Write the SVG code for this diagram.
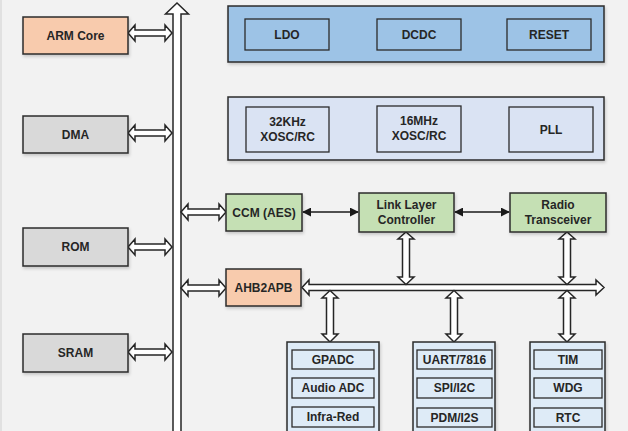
<svg xmlns="http://www.w3.org/2000/svg" width="628" height="431" viewBox="0 0 628 431">
<defs>
<filter id="sh" x="-10%" y="-10%" width="130%" height="140%"><feDropShadow dx="1" dy="2" stdDeviation="1.5" flood-color="#000" flood-opacity="0.18"/></filter>
<marker id="ah" viewBox="0 0 10 10" refX="9" refY="5" markerWidth="9" markerHeight="9" markerUnits="userSpaceOnUse" orient="auto-start-reverse"><path d="M0,0 L10,5 L0,10 Z" fill="#1a1a1a"/></marker>
<style>
.bx{stroke:#2b2b2b;stroke-width:1.5;filter:url(#sh)}
.in{stroke:#2b2b2b;stroke-width:1.3}
.peach{fill:#f8cbad}.gray{fill:#d9d9d9}.blue{fill:#9dc3e6}.lav{fill:#dae3f3}.green{fill:#c5e0b4}.lb{fill:#deebf7}
.t{font-family:"Liberation Sans",Arial,sans-serif;font-weight:bold;font-size:12px;fill:#262626;text-anchor:middle;dominant-baseline:central}
.da{fill:#ffffff;stroke:#262626;stroke-width:1.5;stroke-linejoin:miter}
.ln{stroke:#1a1a1a;stroke-width:1.3;fill:none}
</style>
</defs>
<rect width="628" height="431" fill="#f2f2f2"/>
<line x1="1" y1="0" x2="1" y2="431" stroke="#d0d0d0"/>

<g id="connectors">
<path class="da" d="M173,440 L173,14 L165.5,14 L177,3 L188.5,14 L181,14 L181,440 Z"/>
<path class="da" d="M128,33 L135,25 L135,30 L165,30 L165,25 L172,33 L165,41 L165,36 L135,36 L135,41 Z"/>
<path class="da" d="M128,133 L135,125 L135,130 L165,130 L165,125 L172,133 L165,141 L165,136 L135,136 L135,141 Z"/>
<path class="da" d="M128,247 L135,239 L135,244 L165,244 L165,239 L172,247 L165,255 L165,250 L135,250 L135,255 Z"/>
<path class="da" d="M128,352 L135,344 L135,349 L165,349 L165,344 L172,352 L165,360 L165,355 L135,355 L135,360 Z"/>
<path class="da" d="M181,212 L188,204 L188,209 L219,209 L219,204 L226,212 L219,220 L219,215 L188,215 L188,220 Z"/>
<path class="da" d="M181,288 L188,280 L188,285 L219,285 L219,280 L226,288 L219,296 L219,291 L188,291 L188,296 Z"/>
<line class="ln" x1="303" y1="212" x2="358" y2="212" marker-start="url(#ah)" marker-end="url(#ah)"/>
<line class="ln" x1="455" y1="212" x2="509" y2="212" marker-start="url(#ah)" marker-end="url(#ah)"/>
<path class="da" d="M302,287.5 L309,280 L309,284.5 L596,284.5 L596,280 L604,287.5 L596,295 L596,290.5 L309,290.5 L309,295 Z"/>
<path class="da" d="M406,232 L414,239 L409.5,239 L409.5,277 L414,277 L406,284.5 L398,277 L402.5,277 L402.5,239 L398,239 Z"/>
<path class="da" d="M567,232 L575,239 L570.5,239 L570.5,277 L575,277 L567,284.5 L559,277 L563.5,277 L563.5,239 L559,239 Z"/>
<path class="da" d="M330,290.5 L338,298 L333.5,298 L333.5,334 L338,334 L330,342 L322,334 L326.5,334 L326.5,298 L322,298 Z"/>
<path class="da" d="M454,290.5 L462,298 L457.5,298 L457.5,334 L462,334 L454,342 L446,334 L450.5,334 L450.5,298 L446,298 Z"/>
<path class="da" d="M567,290.5 L575,298 L570.5,298 L570.5,334 L575,334 L567,342 L559,334 L563.5,334 L563.5,298 L559,298 Z"/>
</g>

<g id="arm-core"><rect class="bx peach" x="23" y="17" width="105" height="37"/><text class="t" x="75.5" y="35.5">ARM Core</text></g>
<g id="dma"><rect class="bx gray" x="23" y="116" width="105" height="37"/><text class="t" x="75.5" y="134.5">DMA</text></g>
<g id="rom"><rect class="bx gray" x="23" y="228" width="105" height="38"/><text class="t" x="75.5" y="247">ROM</text></g>
<g id="sram"><rect class="bx gray" x="23" y="334" width="105" height="38"/><text class="t" x="75.5" y="353">SRAM</text></g>

<g id="power-group">
<rect class="bx blue" x="228" y="6" width="376" height="56"/>
<g id="ldo"><rect class="in blue" x="245" y="19" width="84" height="31"/><text class="t" x="287" y="34.5">LDO</text></g>
<g id="dcdc"><rect class="in blue" x="377" y="19" width="84" height="31"/><text class="t" x="419" y="34.5">DCDC</text></g>
<g id="reset"><rect class="in blue" x="507" y="19" width="84" height="31"/><text class="t" x="549" y="34.5">RESET</text></g>
</g>

<g id="clock-group">
<rect class="bx lav" x="228" y="97" width="376" height="63"/>
<g id="osc32k"><rect class="in lav" x="246" y="107" width="83" height="45"/><text class="t" x="287.5" y="122">32KHz</text><text class="t" x="287.5" y="137">XOSC/RC</text></g>
<g id="osc16m"><rect class="in lav" x="377" y="106" width="84" height="46"/><text class="t" x="419" y="121">16MHz</text><text class="t" x="419" y="136">XOSC/RC</text></g>
<g id="pll"><rect class="in lav" x="509" y="107" width="84" height="45"/><text class="t" x="551" y="129.5">PLL</text></g>
</g>

<g id="ccm"><rect class="bx green" x="226" y="194" width="76" height="37"/><text class="t" x="264" y="212.5">CCM (AES)</text></g>
<g id="link-layer"><rect class="bx green" x="359" y="193" width="95" height="39"/><text class="t" x="406.5" y="204.5">Link Layer</text><text class="t" x="406.5" y="220">Controller</text></g>
<g id="radio"><rect class="bx green" x="510" y="193" width="96" height="39"/><text class="t" x="558" y="204.5">Radio</text><text class="t" x="558" y="220">Transceiver</text></g>
<g id="ahb2apb"><rect class="bx peach" x="226" y="269" width="75" height="37"/><text class="t" x="263.5" y="287.5">AHB2APB</text></g>

<g id="analog-group">
<rect class="bx lb" x="287" y="342" width="92" height="100"/>
<g id="gpadc"><rect class="in lb" x="292" y="350" width="82" height="19"/><text class="t" x="333" y="359.5">GPADC</text></g>
<g id="audio-adc"><rect class="in lb" x="292" y="378" width="82" height="20"/><text class="t" x="333" y="388">Audio ADC</text></g>
<g id="infra-red"><rect class="in lb" x="292" y="407" width="82" height="20"/><text class="t" x="333" y="417">Infra-Red</text></g>
</g>

<g id="serial-group">
<rect class="bx lb" x="413" y="342" width="82" height="100"/>
<g id="uart"><rect class="in lb" x="417" y="350" width="75" height="19"/><text class="t" x="454.5" y="359.5">UART/7816</text></g>
<g id="spi-i2c"><rect class="in lb" x="417" y="378" width="75" height="20"/><text class="t" x="454.5" y="388">SPI/I2C</text></g>
<g id="pdm-i2s"><rect class="in lb" x="417" y="408" width="75" height="19"/><text class="t" x="454.5" y="417.5">PDM/I2S</text></g>
</g>

<g id="timer-group">
<rect class="bx lb" x="530" y="342" width="75" height="100"/>
<g id="tim"><rect class="in lb" x="534" y="350" width="68" height="19"/><text class="t" x="568" y="359.5">TIM</text></g>
<g id="wdg"><rect class="in lb" x="534" y="378" width="68" height="20"/><text class="t" x="568" y="388">WDG</text></g>
<g id="rtc"><rect class="in lb" x="534" y="408" width="68" height="19"/><text class="t" x="568" y="417.5">RTC</text></g>
</g>
</svg>
